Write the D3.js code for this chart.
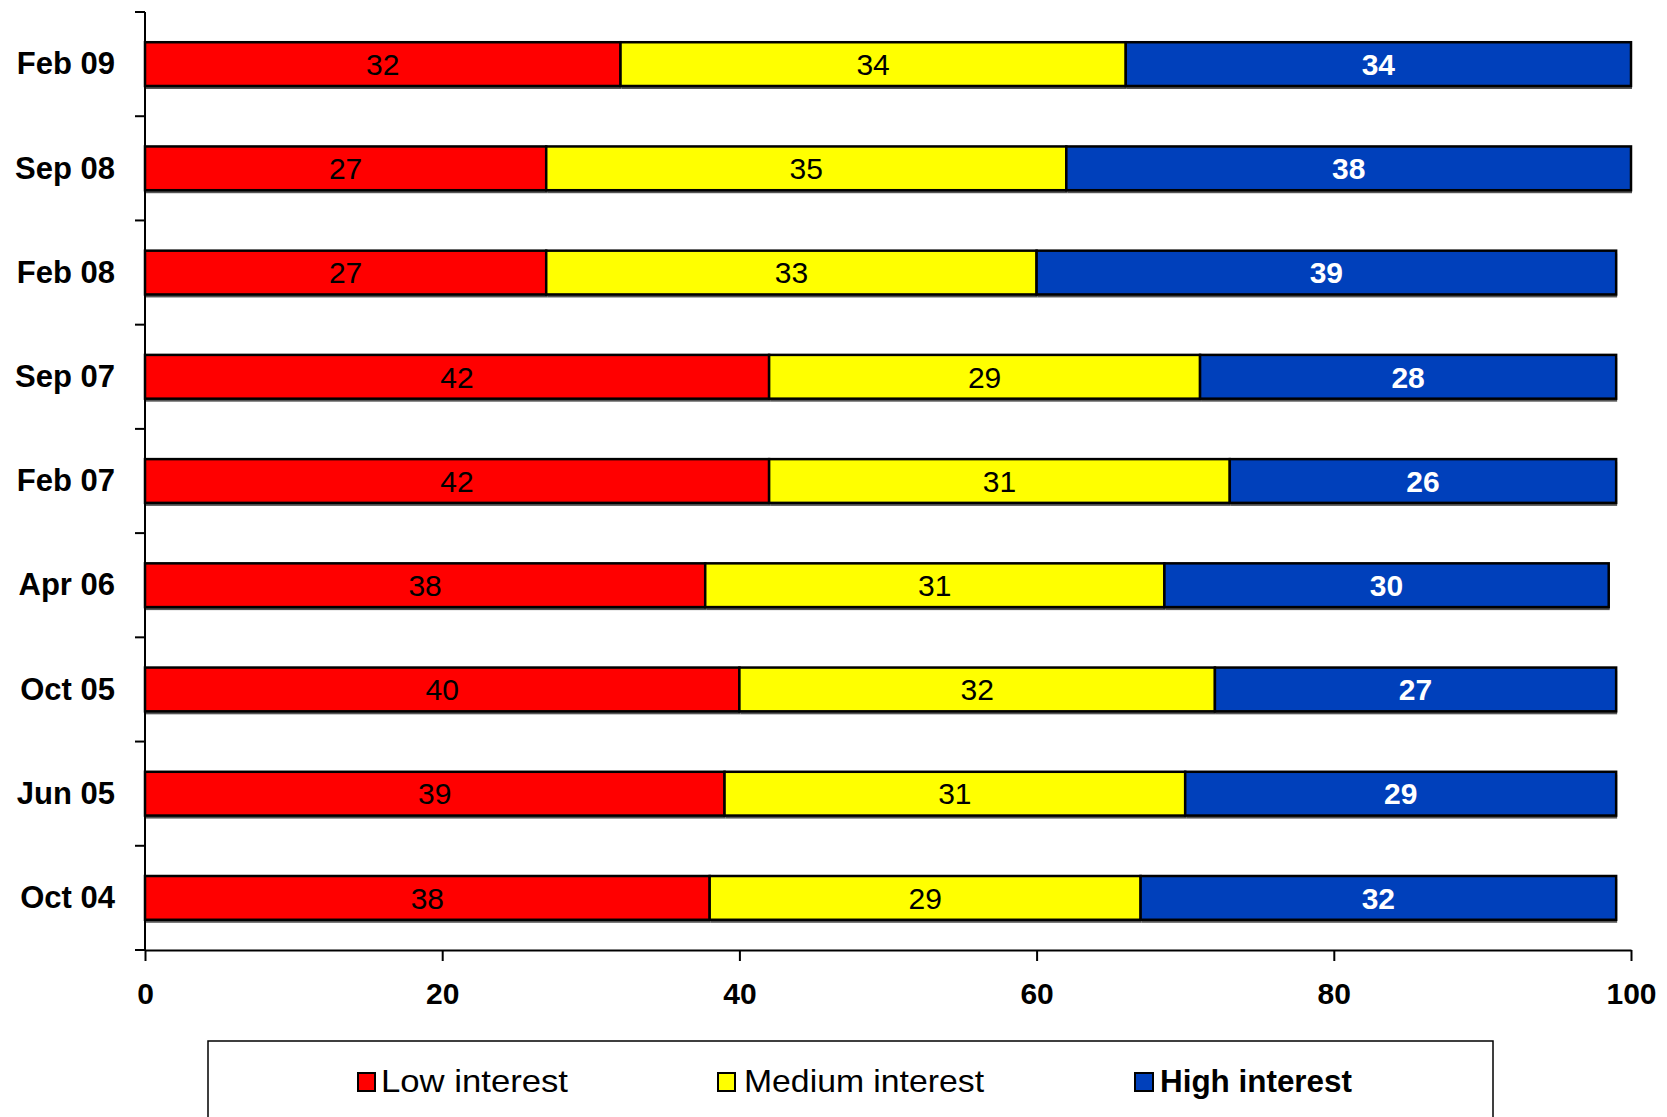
<!DOCTYPE html>
<html>
<head>
<meta charset="utf-8">
<script src="https://cdn.jsdelivr.net/npm/d3@7"></script>
<style>
  html, body { margin: 0; padding: 0; background: #fff; }
  svg { display: block; font-family: "Liberation Sans", Arial, sans-serif; }
</style>
</head>
<body>
<svg id="chart" width="1667" height="1117"></svg>
<script>
const categories = ["Feb 09", "Sep 08", "Feb 08", "Sep 07", "Feb 07", "Apr 06", "Oct 05", "Jun 05", "Oct 04"];
const seriesNames = ["Low interest", "Medium interest", "High interest"];
const lowValues    = [32, 27, 27, 42, 42, 37.7, 40, 39, 38];
const mediumValues = [34, 35, 33, 29, 31, 30.9, 32, 31, 29];
const highValues   = [34, 38, 39, 28, 26, 29.9, 27, 29, 32];
const xTicks = [0, 20, 40, 60, 80, 100];
const colors = ["#FF0000", "#FFFF00", "#0040BB"];
const labelColors = ["#000", "#000", "#fff"];
const labelWeights = ["normal", "normal", "bold"];

const svg = d3.select("#chart");
const x = d3.scaleLinear().domain([0, 100]).range([145, 1631]);
const y = d3.scaleBand().domain(categories).range([12, 950]).paddingInner(0.58).paddingOuter(0.29);

const rows = categories.map((c, i) => ({ cat: c, low: lowValues[i], medium: mediumValues[i], high: highValues[i] }));
const stack = d3.stack().keys(["low", "medium", "high"]);
const series = stack(rows);

// shadows
const gShadow = svg.append("g");
series.forEach((s, si) => {
  gShadow.selectAll(null).data(s).enter().append("rect")
    .attr("x", d => x(d[0]) + 1)
    .attr("y", d => y(d.data.cat) + 3)
    .attr("width", d => x(d[1]) - x(d[0]))
    .attr("height", y.bandwidth())
    .attr("fill", "#555");
});

// bars
series.forEach((s, si) => {
  const g = svg.append("g");
  g.selectAll("rect").data(s).enter().append("rect")
    .attr("x", d => x(d[0]))
    .attr("y", d => y(d.data.cat))
    .attr("width", d => x(d[1]) - x(d[0]))
    .attr("height", y.bandwidth())
    .attr("fill", colors[si])
    .attr("stroke", "#000")
    .attr("stroke-width", 2.5);
  g.selectAll("text").data(s).enter().append("text")
    .attr("x", d => (x(d[0]) + x(d[1])) / 2)
    .attr("y", d => y(d.data.cat) + y.bandwidth() / 2)
    .attr("dy", "0.36em")
    .attr("text-anchor", "middle")
    .attr("font-size", 30)
    .attr("font-weight", labelWeights[si])
    .attr("fill", labelColors[si])
    .text(d => d3.format(".0f")(d[1] - d[0]));
});

// y axis
const step = y.step();
const boundaries = d3.range(categories.length + 1).map(i => 12 + i * step);
const yAxis = svg.append("g");
yAxis.append("line").attr("x1", 145).attr("x2", 145).attr("y1", 12).attr("y2", 950)
  .attr("stroke", "#000").attr("stroke-width", 2);
yAxis.selectAll(".tk").data(boundaries).enter().append("line")
  .attr("x1", 135).attr("x2", 145).attr("y1", d => d).attr("y2", d => d)
  .attr("stroke", "#000").attr("stroke-width", 2);
yAxis.selectAll("text").data(categories).enter().append("text")
  .attr("x", 115)
  .attr("y", d => y(d) + y.bandwidth() / 2)
  .attr("dy", "0.33em")
  .attr("text-anchor", "end")
  .attr("font-size", 31)
  .attr("font-weight", "bold")
  .text(d => d);

// x axis
const xAxisG = svg.append("g").attr("transform", "translate(0,950)")
  .call(d3.axisBottom(x).tickValues(xTicks).tickSize(11).tickPadding(22).tickSizeOuter(0));
xAxisG.select(".domain").attr("stroke", "#000").attr("stroke-width", 2);
xAxisG.selectAll(".tick line").attr("stroke", "#000").attr("stroke-width", 2);
xAxisG.selectAll(".tick text")
  .attr("font-family", "'Liberation Sans', Arial, sans-serif")
  .attr("font-size", 30).attr("font-weight", "bold").attr("fill", "#000");

// legend
const legend = svg.append("g");
legend.append("rect").attr("x", 208).attr("y", 1041).attr("width", 1285).attr("height", 120)
  .attr("fill", "none").attr("stroke", "#000").attr("stroke-width", 1.5);
const legendItems = [
  { sx: 358, sw: 17, tx: 381, tl: 187, weight: "normal", fs: 32 },
  { sx: 718, sw: 17, tx: 744, tl: 240, weight: "normal", fs: 32 },
  { sx: 1135, sw: 18, tx: 1160, tl: 192, weight: "bold", fs: 31 }
];
legendItems.forEach((it, i) => {
  legend.append("rect").attr("x", it.sx).attr("y", 1073).attr("width", it.sw).attr("height", 18)
    .attr("fill", colors[i]).attr("stroke", "#000").attr("stroke-width", 2);
  legend.append("text").attr("x", it.tx).attr("y", 1092)
    .attr("font-size", it.fs).attr("font-weight", it.weight)
    .attr("textLength", it.tl).attr("lengthAdjust", "spacingAndGlyphs")
    .text(seriesNames[i]);
});
</script>
</body>
</html>
